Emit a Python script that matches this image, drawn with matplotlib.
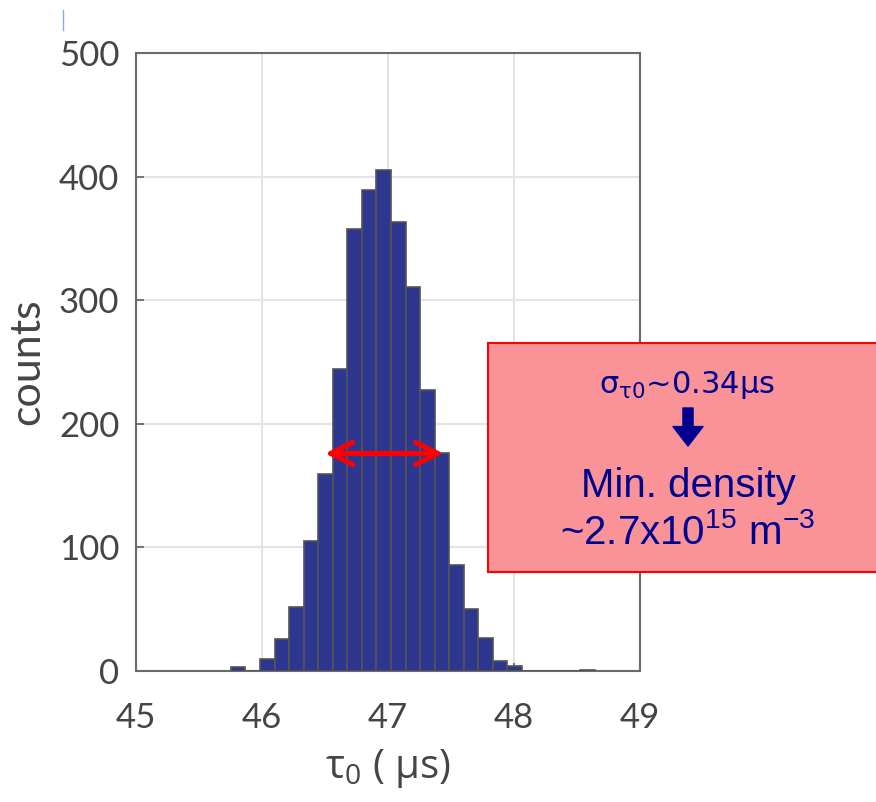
import numpy as np
import matplotlib
matplotlib.use('Agg')
import matplotlib.pyplot as plt
from matplotlib.patches import Rectangle, FancyArrowPatch
from matplotlib.lines import Line2D

# histogram of tau_0, bins
bin_start = 45.753
bin_width = 0.1155
counts = [3, 0, 10, 26, 52, 105, 159, 244, 358, 389, 405, 363, 311, 227,
          176, 86, 50, 27, 8, 4, 0, 0, 0, 0, 1]

# width of the red double arrow (x range, y level)
fwhm_x = [46.50, 47.44]
fwhm_y = 176

xticks = [45, 46, 47, 48, 49]
yticks = [0, 100, 200, 300, 400, 500]

navy = '#2E3790'
grey_txt = '#454545'
dark_blue = '#00008F'

plt.rcParams['font.family'] = ['Lato', 'DejaVu Sans']

fig = plt.figure(figsize=(8.76, 8.02), dpi=100)
ax = fig.add_axes([136/876, 1-671/802, (640-136)/876, (671-53)/802])

edges = bin_start + bin_width*np.arange(len(counts))
ax.bar(edges, counts, width=bin_width, align='edge', color=navy,
       edgecolor='#555555', linewidth=1.2, zorder=3)

ax.set_xlim(45, 49)
ax.set_ylim(0, 500)
ax.set_xticks(xticks)
ax.set_yticks(yticks)
ax.grid(True, color='#e4e4e4', linewidth=1.5, zorder=0)
ax.tick_params(direction='in', length=6, width=1.2, colors='#606060',
               labelcolor=grey_txt, labelsize=25)
ax.tick_params(axis='y', pad=12)
ax.tick_params(axis='x', pad=22)
for s in ax.spines.values():
    s.set_color('#6a6a6a')
    s.set_linewidth(1.5)

ax.set_ylabel('counts', fontsize=31, color=grey_txt, labelpad=9)
ax.set_xlabel(r'$\mathregular{\tau_0}$ ( $\mathregular{\mu}$s)', fontsize=29,
              color=grey_txt, labelpad=10, family=['Open Sans', 'DejaVu Sans'])

# red double arrow
ax.annotate('', xy=(fwhm_x[0], fwhm_y), xytext=(fwhm_x[1], fwhm_y),
            arrowprops=dict(arrowstyle='<->,head_length=1.6,head_width=0.8',
                            color='red', lw=3.6, shrinkA=0, shrinkB=0),
            zorder=5)

# pink annotation box
box = Rectangle((488/876, 1-572/802), 0.5, (572-343)/802,
                transform=fig.transFigure, facecolor='#F99398',
                edgecolor='red', linewidth=1.5, clip_on=False, zorder=6)
fig.patches.append(box)

fig.text(687/876, 1-385/802, r'$\mathregular{\sigma_{\tau0}}$~0.34$\mathregular{\mu}$s',
         ha='center', va='center', fontsize=22, color=dark_blue,
         family=['Liberation Sans Narrow', 'DejaVu Sans'], zorder=7)
fig.text(688/876, 1-486/802, 'Min. density', ha='center', va='center',
         fontsize=29, color=dark_blue, family='Liberation Sans', zorder=7)
fig.text(688/876, 1-533/802,
         r'~2.7x10$\mathregular{^{15}}$ m$\mathregular{^{-3}}$',
         ha='center', va='center', fontsize=29, color=dark_blue,
         family='Liberation Sans', zorder=7)
fig.add_artist(FancyArrowPatch(
    (688/876, 1-408/802), (688/876, 1-446/802), transform=fig.transFigure,
    arrowstyle='simple,head_width=1.55,head_length=1.0,tail_width=0.52',
    mutation_scale=14, color=dark_blue, shrinkA=0, shrinkB=0, zorder=7))

# stray mark top left
fig.add_artist(Line2D([63/876, 63/876], [1-10/802, 1-30/802],
                      transform=fig.transFigure, color='#7fb0e0', lw=1))

fig.savefig('out.png', dpi=100)
